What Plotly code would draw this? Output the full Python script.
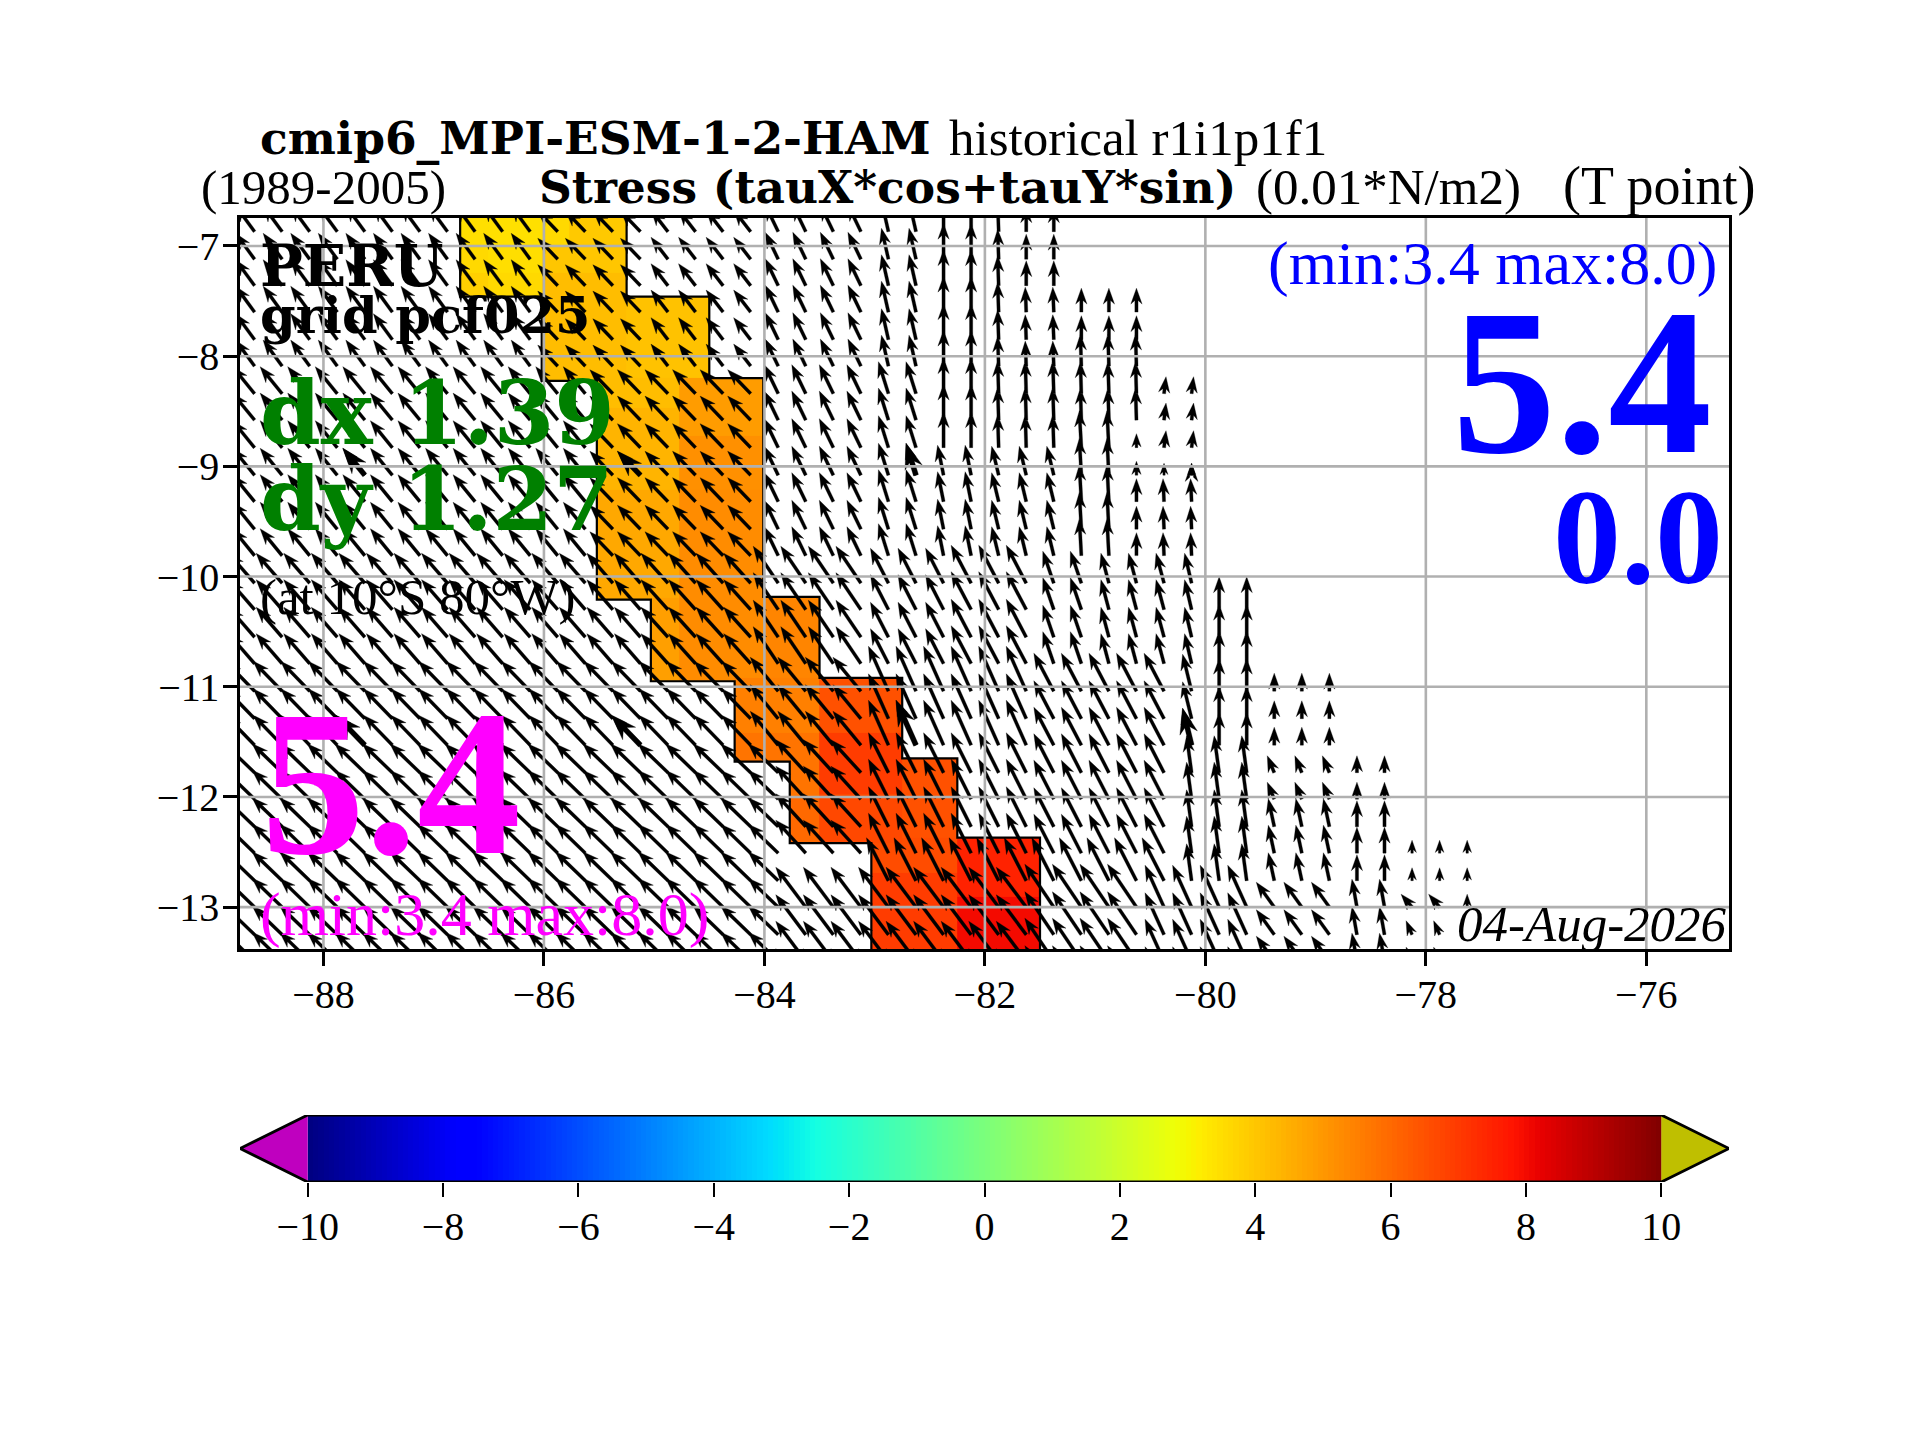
import numpy as np
import plotly.graph_objects as go

W, H = 1920, 1440
SERIF = 'Liberation Serif'
WIDE = 'DejaVu Serif'

lon_ticks = [-88, -86, -84, -82, -80, -78, -76]
lat_ticks = [-7, -8, -9, -10, -11, -12, -13]
bar_ticks = [-10, -8, -6, -4, -2, 0, 2, 4, 6, 8, 10]

arrow_lons = [-88.625 + 0.25 * i for i in range(45)]
arrow_lats = [-6.87, -7.12, -7.36, -7.6, -7.85, -8.09, -8.34, -8.58, -8.83, -9.08,
              -9.32, -9.57, -9.81, -10.06, -10.3, -10.55, -10.79, -11.04, -11.29, -11.53,
              -11.78, -12.02, -12.27, -12.51, -12.76, -13.0, -13.25, -13.49, -13.74]

# wind stress comes in coarse model boxes, so the arrows are read box by box
box_col0 = [0, 11, 0, 13, 0, 15, 0, 0, 15, 19, 19, 23, 23, 25, 25, 27, 28, 28, 27, 27, 30, 30, 30, 32, 32,
            33, 33, 33, 19, 23, 26, 29, 31, 34, 35, 19, 23, 29, 34, 37, 20, 23, 29, 34, 37, 40, 37, 40,
            23, 20, 29, 33, 37, 40, 42, 42, 42]
box_col1 = [10, 14, 12, 18, 14, 18, 18, 19, 18, 22, 22, 24, 24, 26, 26, 27, 29, 29, 29, 29, 32, 32, 31, 32, 32,
            34, 34, 34, 22, 25, 28, 30, 33, 34, 36, 22, 28, 33, 34, 39, 22, 28, 33, 36, 39, 41, 39, 41,
            33, 28, 32, 36, 39, 41, 44, 43, 43]
box_row0 = [0, 0, 6, 6, 13, 13, 17, 20, 0, 0, 6, 0, 6, 0, 9, 0, 0, 3, 6, 9, 3, 5, 8, 8, 10,
            6, 9, 10, 13, 13, 13, 13, 13, 13, 14, 17, 17, 17, 17, 17, 20, 20, 20, 20, 20, 20, 22, 22,
            24, 25, 25, 25, 25, 25, 23, 25, 26]
box_row1 = [5, 5, 12, 12, 16, 16, 19, 28, 5, 5, 12, 5, 12, 8, 13, 5, 2, 5, 8, 13, 4, 7, 13, 9, 13,
            8, 9, 13, 16, 16, 16, 16, 16, 16, 19, 19, 19, 19, 19, 19, 23, 23, 23, 24, 21, 21, 24, 24,
            24, 28, 28, 28, 28, 28, 25, 25, 27]
box_u = [-19, -20, -22, -23, -26, -27, -29, -30, -17, -13, -14, -7, -10, 0, -6, -1, 0, -1, -1, -7, 0, -1, -2, 0, 0,
         2, 0, -1, -25, -18, -20, -11, -8, -7, 0, -28, -20, -20, -9, 0, -30, -20, -20, -5, -7, 0, -6, 0,
         -22, -30, -29, -19, -18, -5, 0, -11, -6]
box_v = [26, 21, 27, 24, 30, 30, 30, 29, 22, 27, 29, 31, 32, 36, 30, 30, 25, 25, 33, 29, 24, 32, 37, 14, 23,
         17, 12, 23, 37, 35, 38, 32, 30, 30, 33, 34, 45, 38, 37, 18, 33, 40, 39, 37, 17, 17, 28, 26,
         43, 40, 43, 42, 25, 28, 13, 13, 14]
bold_cols = [4, 14, 24, 34]
bold_rows = [9, 19]

# stress shown in colour, box by box (west, east, north, south, value)
cell_w = [-86.76, -86.51, -86.76, -86.51, -86.76, -86.51, -86.02, -85.77, -86.02, -86.02, -85.25, -85.52, -85.52,
          -85.52, -84.77, -84.77, -84.77, -85.03, -84.77, -84.01, -84.27, -84.27, -83.77, -83.77, -83.5, -83.5,
          -83.5, -82.75, -83.03, -83.03, -82.75, -82.25, -82.25]
cell_e = [-86.51, -86.02, -86.51, -86.02, -86.51, -86.02, -85.77, -85.25, -85.25, -85.25, -84.5, -84.77, -84.77,
          -84.77, -84.01, -84.01, -84.01, -84.77, -84.01, -83.5, -83.5, -83.5, -83.5, -83.5, -82.75, -82.75,
          -82.75, -82.25, -82.25, -82.25, -82.25, -81.5, -81.5]
cell_n = [-6.5, -6.5, -6.99, -6.99, -7.245, -7.245, -6.5, -6.5, -6.99, -7.245, -7.46, -8.2, -8.47,
          -9.21, -8.2, -8.72, -9.21, -10.19, -10.19, -10.19, -10.92, -11.42, -11.68, -12.0, -10.92, -11.42,
          -11.97, -11.65, -12.42, -12.69, -12.37, -12.37, -12.91]
cell_s = [-6.99, -6.99, -7.245, -7.245, -7.46, -7.46, -6.99, -6.99, -7.245, -8.225, -8.2, -8.47, -9.21,
          -10.21, -8.72, -9.21, -10.19, -10.95, -10.95, -10.92, -11.42, -11.68, -12.0, -12.42, -11.42, -11.97,
          -12.42, -12.37, -12.69, -13.5, -12.69, -12.91, -13.5]
cell_val = [3.47, 3.45, 3.6, 3.5, 3.8, 3.6, 3.6, 3.95, 4.0, 4.2, 4.1, 4.2, 4.4,
            4.65, 4.9, 5.15, 5.25, 4.85, 5.25, 5.4, 5.5, 5.75, 5.75, 6.0, 6.5, 6.95,
            6.7, 6.5, 6.6, 6.95, 6.6, 7.5, 8.0]

outline_lon = [-86.76, -85.25, -85.25, -84.5, -84.5, -84.01, -84.01, -83.5, -83.5, -82.75, -82.75, -82.25, -82.25,
               -81.5, -81.5, -83.03, -83.03, -83.77, -83.77, -84.27, -84.27, -85.03, -85.03, -85.52, -85.52,
               -86.02, -86.02, -86.76, -86.76]
outline_lat = [-6.5, -6.5, -7.46, -7.46, -8.2, -8.2, -10.185, -10.185, -10.92, -10.92, -11.65, -11.65, -12.37,
               -12.37, -13.5, -13.5, -12.42, -12.42, -11.68, -11.68, -10.95, -10.95, -10.21, -10.21, -8.225,
               -8.225, -7.46, -7.46, -6.5]

JET = [[0, 'rgb(0,0,128)'], [0.11, 'rgb(0,0,255)'], [0.125, 'rgb(0,0,255)'], [0.34, 'rgb(0,219,255)'],
       [0.35, 'rgb(0,229,247)'], [0.375, 'rgb(20,255,226)'], [0.64, 'rgb(238,255,8)'], [0.65, 'rgb(247,246,0)'],
       [0.66, 'rgb(255,236,0)'], [0.89, 'rgb(255,20,0)'], [0.91, 'rgb(232,0,0)'], [1, 'rgb(128,0,0)']]


def arrow_paths(cols, rows, cells, grow=1.0):
    # polygons in lon/lat, the map axes use the same scale on both sides
    px = 1 / 110.3
    xs, ys = [], []
    for c in cols:
        for r in rows:
            if (c, r) not in cells:
                continue
            u, v = cells[(c, r)]
            x0, y0 = arrow_lons[c], arrow_lats[r]
            ln = np.hypot(u, v)
            dx, dy = u / ln, v / ln
            nx, ny = -dy, dx
            s = min(1.0, ln / (16 * 1.05)) * grow
            hw, hl, ha, w = 11.3 * s, 16 * s, 12.3 * s, 3.2 * s
            pts = [(0, w / 2), (ln - ha, w / 2), (ln - hl, hw / 2), (ln, 0),
                   (ln - hl, -hw / 2), (ln - ha, -w / 2), (0, -w / 2), (0, w / 2)]
            for a, b in pts:
                xs.append(x0 + (dx * a + nx * b) * px)
                ys.append(y0 + (dy * a + ny * b) * px)
            xs.append(None)
            ys.append(None)
    return xs, ys


arrow_cells = {}
for i in range(len(box_u)):
    for c in range(box_col0[i], box_col1[i] + 1):
        for r in range(box_row0[i], box_row1[i] + 1):
            arrow_cells[(c, r)] = (box_u[i], box_v[i])

x_edges = sorted(set(cell_w + cell_e))
y_edges = sorted(set(cell_n + cell_s))
z = [[None] * (len(x_edges) - 1) for _ in range(len(y_edges) - 1)]
for k in range(len(cell_val)):
    for j in range(len(y_edges) - 1):
        for i in range(len(x_edges) - 1):
            xc = (x_edges[i] + x_edges[i + 1]) / 2
            yc = (y_edges[j] + y_edges[j + 1]) / 2
            if cell_w[k] < xc < cell_e[k] and cell_s[k] < yc < cell_n[k]:
                z[j][i] = cell_val[k]

fig = go.Figure()
fig.add_trace(go.Heatmap(x=x_edges, y=y_edges, z=z, zmin=-10, zmax=10, colorscale=JET,
                         showscale=False, hoverinfo='skip'))
fig.add_trace(go.Scatter(x=outline_lon, y=outline_lat, mode='lines', hoverinfo='skip',
                         line=dict(color='black', width=2.2)))
ax, ay = arrow_paths(range(45), range(29), arrow_cells)
fig.add_trace(go.Scatter(x=ax, y=ay, mode='lines', fill='toself', fillcolor='black', hoverinfo='skip',
                         line=dict(color='black', width=0.3)))
bx, by = arrow_paths(bold_cols, bold_rows, arrow_cells, grow=1.6)
fig.add_trace(go.Scatter(x=bx, y=by, mode='lines', fill='toself', fillcolor='black', hoverinfo='skip',
                         line=dict(color='black', width=0.3)))

# colour bar with its two end triangles
ramp_edges = np.linspace(-10, 10, 257)
ramp = [list((ramp_edges[:-1] + ramp_edges[1:]) / 2)]
fig.add_trace(go.Heatmap(x=ramp_edges, y=[0, 1], z=ramp, zmin=-10, zmax=10, colorscale=JET,
                         showscale=False, hoverinfo='skip', xaxis='x2', yaxis='y2'))
fig.add_trace(go.Scatter(x=[-10, -11, -10, -10], y=[0, 0.5, 1, 0], mode='none', fill='toself',
                         fillcolor='#bf00bf', hoverinfo='skip', xaxis='x2', yaxis='y2'))
fig.add_trace(go.Scatter(x=[10, 11, 10, 10], y=[0, 0.5, 1, 0], mode='none', fill='toself',
                         fillcolor='#bfbf00', hoverinfo='skip', xaxis='x2', yaxis='y2'))
fig.add_trace(go.Scatter(x=[-10, 10, 11, 10, -10, -11, -10], y=[0, 0, 0.5, 1, 1, 0.5, 0], mode='lines',
                         line=dict(color='black', width=2.8), hoverinfo='skip', xaxis='x2', yaxis='y2'))

for t in lon_ticks:
    fig.add_shape(type='line', x0=t, x1=t, y0=-13.38, y1=-6.746, layer='above',
                  line=dict(color='#b0b0b0', width=2.6))
for t in lat_ticks:
    fig.add_shape(type='line', x0=-88.757, x1=-75.25, y0=t, y1=t, layer='above',
                  line=dict(color='#b0b0b0', width=2.6))


def add_text(px, base, text, size, color='black', anchor='left', family=SERIF):
    fig.add_annotation(xref='paper', yref='paper', x=px / W, y=1 - (base + 0.22 * size) / H, text=text,
                       showarrow=False, xanchor=anchor, yanchor='bottom', borderpad=0,
                       font=dict(family=family, size=size, color=color))


add_text(259, 156, '<b>cmip6_MPI-ESM-1-2-HAM</b>', 45.5, family=WIDE)
add_text(948, 156, 'historical r1i1p1f1', 51)
add_text(200, 205, '(1989-2005)', 49)
add_text(538, 205, '<b>Stress (tauX*cos+tauY*sin)</b>', 45.5, family=WIDE)
add_text(1255, 205, '(0.01*N/m2)', 51)
add_text(1562, 205, '(T point)', 54)
add_text(259, 287, '<b>PERU</b>', 57, family=WIDE)
add_text(259, 335, '<b>grid pcf025</b>', 51, family=WIDE)
add_text(259, 447, '<b>dx 1.39</b>', 87, 'green', family=WIDE)
add_text(259, 533, '<b>dy 1.27</b>', 87, 'green', family=WIDE)
add_text(259, 615, '(at 10°S 80°W)', 51)
add_text(260, 853, '<b>5.4</b>', 208, 'magenta')
add_text(259, 936, '(min:3.4 max:8.0)', 62, 'magenta')
add_text(1718, 285, '(min:3.4 max:8.0)', 62, 'blue', 'right')
add_text(1713, 452, '<b>5.4</b>', 208, 'blue', 'right')
add_text(1724, 583, '<b>0.0</b>', 136, 'blue', 'right')
add_text(1728, 942, '<i>04-Aug-2026</i>', 51, 'black', 'right')

tick_font = dict(family=SERIF, size=40, color='black')
fig.update_layout(
    width=W, height=H, showlegend=False, plot_bgcolor='white', paper_bgcolor='white',
    margin=dict(l=0, r=0, t=0, b=0),
    xaxis=dict(domain=[240 / W, 1729 / W], range=[-88.757, -75.25], tickvals=lon_ticks, showgrid=False,
               zeroline=False, showline=True, mirror=True, linecolor='black', linewidth=2.5,
               ticks='outside', ticklen=14, tickwidth=2.5, tickcolor='black', tickfont=tick_font,
               ticklabelstandoff=-6),
    yaxis=dict(domain=[1 - 949 / H, 1 - 218 / H], range=[-13.38, -6.746], tickvals=lat_ticks, showgrid=False,
               zeroline=False, showline=True, mirror=True, linecolor='black', linewidth=2.5,
               ticks='outside', ticklen=14, tickwidth=2.5, tickcolor='black', tickfont=tick_font,
               ticklabelstandoff=-4),
    xaxis2=dict(domain=[240 / W, 1729 / W], range=[-11, 11], anchor='y2', tickvals=bar_ticks, showgrid=False,
                zeroline=False, ticks='outside', ticklen=14, tickwidth=2, tickcolor='black', tickfont=tick_font,
                ticklabelstandoff=-5),
    yaxis2=dict(domain=[1 - 1182 / H, 1 - 1115 / H], range=[0, 1], anchor='x2', visible=False),
)

fig.write_html("out.html", config={'displayModeBar': False}, post_script="document.body.style.margin='0';")
